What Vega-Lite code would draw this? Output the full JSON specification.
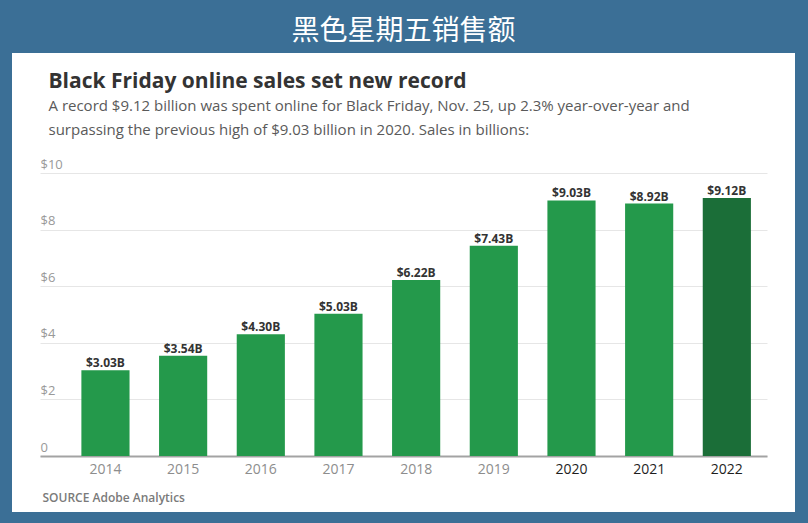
{
  "$schema": "https://vega.github.io/schema/vega-lite/v6.json",
  "width": 783,
  "height": 459,
  "autosize": {"type": "none"},
  "padding": {"left": 12, "top": 53, "right": 13, "bottom": 11},
  "background": "#3b6f96",
  "title": {
    "text": "黑色星期五销售额",
    "anchor": "middle",
    "frame": "group",
    "orient": "top",
    "font": "Noto Sans CJK SC",
    "fontSize": 28,
    "fontWeight": "normal",
    "color": "#ffffff",
    "baseline": "alphabetic",
    "offset": -15
  },
  "data": {
    "values": [
      {"year": "2014", "sales": 3.03, "label": "$3.03B"},
      {"year": "2015", "sales": 3.54, "label": "$3.54B"},
      {"year": "2016", "sales": 4.30, "label": "$4.30B"},
      {"year": "2017", "sales": 5.03, "label": "$5.03B"},
      {"year": "2018", "sales": 6.22, "label": "$6.22B"},
      {"year": "2019", "sales": 7.43, "label": "$7.43B"},
      {"year": "2020", "sales": 9.03, "label": "$9.03B"},
      {"year": "2021", "sales": 8.92, "label": "$8.92B"},
      {"year": "2022", "sales": 9.12, "label": "$9.12B"}
    ]
  },
  "encoding": {
    "x": {
      "field": "year",
      "type": "ordinal",
      "sort": null,
      "scale": {"range": [28, 755], "paddingInner": 0.38, "paddingOuter": 0.37, "align": 0.72},
      "axis": {
        "orient": "bottom",
        "offset": -56,
        "domain": true,
        "domainColor": "#a3a3a3",
        "domainWidth": 2,
        "ticks": false,
        "tickSize": 0,
        "grid": false,
        "labelAngle": 0,
        "labelFont": "Open Sans",
        "labelFontSize": 14,
        "labelBaseline": "alphabetic",
        "labelPadding": 17,
        "labelColor": {"condition": {"test": "datum.value >= '2020'", "value": "#1e1e1e"}, "value": "#8d8d8d"},
        "title": "SOURCE Adobe Analytics",
        "titleFont": "Open Sans",
        "titleFontSize": 12,
        "titleFontWeight": 600,
        "titleColor": "#7a7a7a",
        "titleAlign": "left",
        "titleAnchor": "start",
        "titleBaseline": "alphabetic",
        "titleX": 30,
        "titleY": 45
      }
    }
  },
  "layer": [
    {
      "mark": {"type": "bar"},
      "encoding": {
        "y": {
          "field": "sales",
          "type": "quantitative",
          "scale": {"domain": [0, 10], "range": [403, 120], "nice": false, "zero": true},
          "axis": {
            "orient": "left",
            "offset": -28,
            "values": [0, 2, 4, 6, 8, 10],
            "labelExpr": "datum.value == 0 ? '0' : '$' + datum.value",
            "domain": false,
            "ticks": false,
            "tickSize": 0,
            "labelPadding": 0,
            "labelAlign": "left",
            "labelBaseline": "alphabetic",
            "labelOffset": -5,
            "labelFont": "Open Sans",
            "labelFontSize": 13,
            "labelColor": "#999999",
            "grid": true,
            "gridColor": "#e6e6e6",
            "gridWidth": 1,
            "title": "Black Friday online sales set new record",
            "titleAngle": 0,
            "titleFont": "Open Sans",
            "titleFontSize": 21,
            "titleFontWeight": "bold",
            "titleColor": "#333333",
            "titleAlign": "left",
            "titleBaseline": "alphabetic",
            "titleX": 8,
            "titleY": 34
          }
        },
        "color": {
          "condition": {"test": "datum.year === '2022'", "value": "#1b6e38"},
          "value": "#24994b"
        }
      }
    },
    {
      "mark": {"type": "text", "font": "Open Sans", "fontSize": 12, "fontWeight": "bold", "color": "#333333", "baseline": "alphabetic", "dy": -3},
      "encoding": {
        "y": {
          "field": "sales",
          "type": "quantitative",
          "axis": {
            "orient": "right",
            "domain": false,
            "ticks": false,
            "labels": false,
            "grid": false,
            "title": [
              "A record $9.12 billion was spent online for Black Friday, Nov. 25, up 2.3% year-over-year and",
              "surpassing the previous high of $9.03 billion in 2020. Sales in billions:"
            ],
            "titleAngle": 0,
            "titleFont": "Open Sans",
            "titleFontSize": 15,
            "titleFontWeight": "normal",
            "titleColor": "#5a5a5a",
            "titleAlign": "left",
            "titleBaseline": "alphabetic",
            "titleLineHeight": 24.5,
            "titleX": -747,
            "titleY": 57
          }
        },
        "text": {"field": "label"}
      }
    }
  ],
  "resolve": {"axis": {"y": "independent"}},
  "config": {
    "view": {"fill": "#ffffff", "stroke": null}
  }
}
